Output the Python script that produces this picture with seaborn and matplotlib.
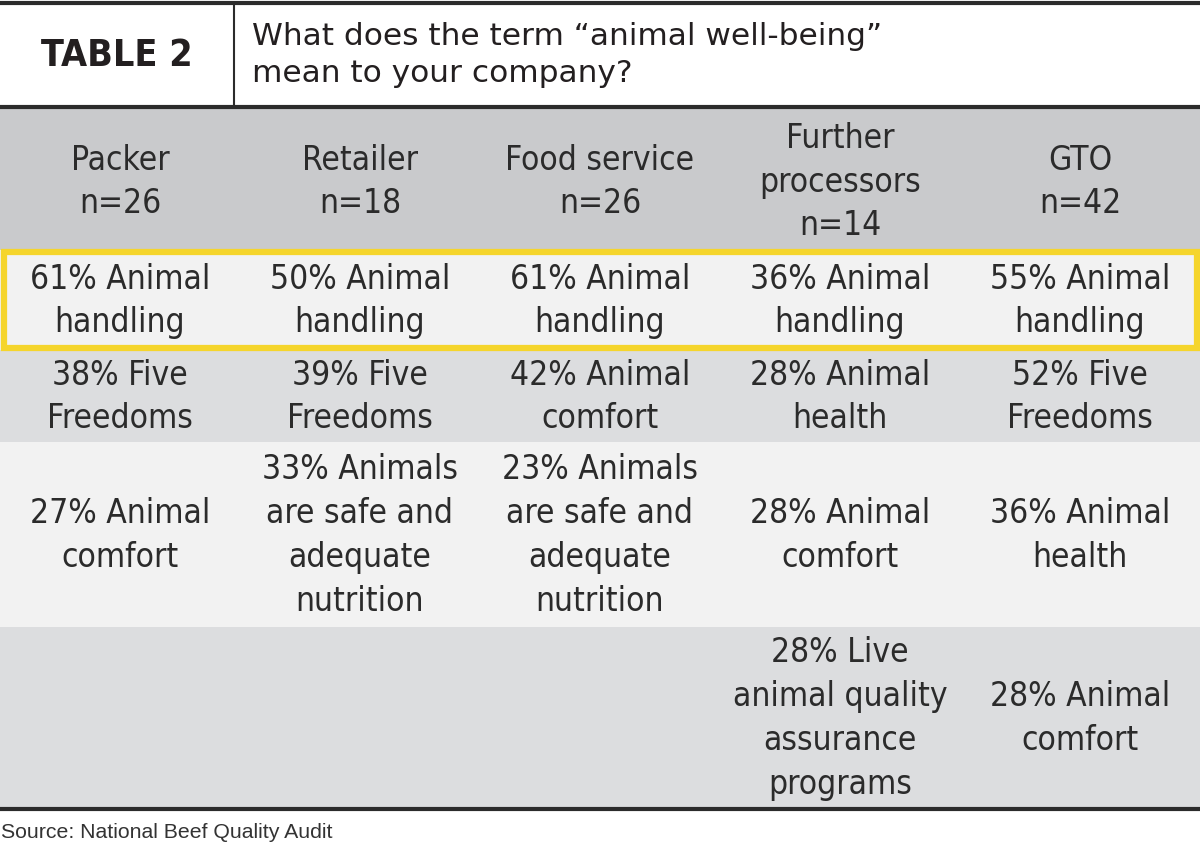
import numpy as np
import matplotlib.pyplot as plt
import matplotlib.patches as patches
import seaborn as sns

# Data
groups = ['Packer', 'Retailer', 'Food service', 'Further\nprocessors', 'GTO']
n_sizes = [26, 18, 26, 14, 42]
row1 = ['61% Animal\nhandling', '50% Animal\nhandling', '61% Animal\nhandling',
        '36% Animal\nhandling', '55% Animal\nhandling']
row2 = ['38% Five\nFreedoms', '39% Five\nFreedoms', '42% Animal\ncomfort',
        '28% Animal\nhealth', '52% Five\nFreedoms']
row3 = ['27% Animal\ncomfort', '33% Animals\nare safe and\nadequate\nnutrition',
        '23% Animals\nare safe and\nadequate\nnutrition', '28% Animal\ncomfort',
        '36% Animal\nhealth']
row4 = ['', '', '', '28% Live\nanimal quality\nassurance\nprograms', '28% Animal\ncomfort']
title_tag = 'TABLE 2'
question = 'What does the term \u201canimal well-being\u201d\nmean to your company?'
source = 'Source: National Beef Quality Audit'

sns.set_theme(style='white')
plt.rcParams['font.family'] = ['DejaVu Sans']
plt.rcParams['font.stretch'] = 'condensed'

W, H = 1200, 849
fig = plt.figure(figsize=(12, 8.49), dpi=100)
ax = fig.add_axes([0, 0, 1, 1])
ax.set_xlim(0, W)
ax.set_ylim(H, 0)
ax.axis('off')

dark = '#2b2b2b'
# (top, bottom, fill, labels, text offset)
rows = [
    (108, 250, '#c9cacc', [f'{g}\nn={n}' for g, n in zip(groups, n_sizes)], 3),
    (250, 350, '#f2f2f2', row1, 1),
    (350, 442, '#dcdddf', row2, 1),
    (442, 627, '#f2f2f2', row3, 1),
    (627, 808, '#dcdddf', row4, 1),
]
col_w = W / len(groups)

for top, bot, color, labels, off in rows:
    ax.add_patch(patches.Rectangle((0, top), W, bot - top, color=color, lw=0, zorder=0))
    for i, lab in enumerate(labels):
        ax.text(col_w * (i + 0.5), (top + bot) / 2 + off, lab, ha='center', va='center',
                fontsize=24, color=dark, linespacing=1.42, fontstretch='condensed', zorder=3)

# highlight box
ax.add_patch(patches.Rectangle((3.5, 252), W - 7, 96, fill=False, ec='#f5d52c', lw=4.5, zorder=4))

# title block
ax.plot([0, W], [3, 3], color=dark, lw=3)
ax.plot([0, W], [106.5, 106.5], color=dark, lw=3)
ax.plot([0, W], [809, 809], color=dark, lw=3)
ax.plot([234, 234], [4, 105], color=dark, lw=1.5)
ax.text(117, 56, title_tag, ha='center', va='center', fontsize=27, fontweight='bold',
        fontstretch='condensed', color='#231f20')
ax.text(252, 55, question, ha='left', va='center', fontsize=22.5, color='#231f20',
        linespacing=1.38, fontstretch='normal')
ax.text(1, 832, source, ha='left', va='center', fontsize=15.3, color='#333333',
        family=['Liberation Sans', 'DejaVu Sans'], fontstretch='normal')

fig.savefig('out.png', dpi=100)
